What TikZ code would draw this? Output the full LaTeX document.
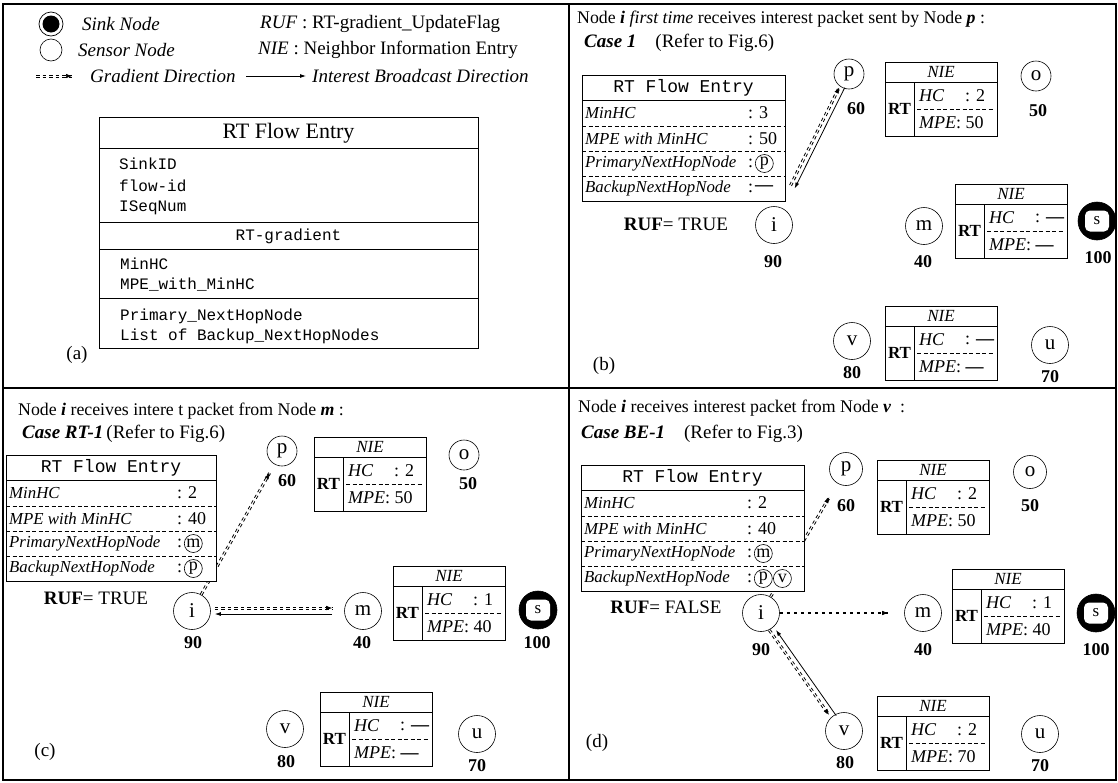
\documentclass[tikz,border=0pt]{standalone}
\usepackage{fontspec}
\setmainfont{Liberation Serif}
\setmonofont{Liberation Mono}
\usetikzlibrary{arrows.meta}
\newcommand{\fsz}[1]{\fontsize{#1}{#1}\selectfont}
\tikzset{
  snode/.style={circle, draw, line width=0.6pt, minimum size=37pt, inner sep=0pt, font=\fsz{21}},
  snodesm/.style={snode, minimum size=30pt},
  sinknode/.style={circle, draw, fill=black, line width=0.6pt, minimum size=38pt, inner sep=0pt},
  sinklbl/.style={fill=white, rounded corners=5pt, minimum width=24pt, minimum height=21pt, inner sep=0pt, font=\fsz{17}},
  num/.style={font=\bfseries\fsz{18}, inner sep=0pt},
  gd/.style={line width=0.8pt, dash pattern=on 3.5pt off 3pt},
  sdash/.style={line width=1.3pt, dash pattern=on 3.5pt off 3.5pt},
  gtip/.style={line width=0.6pt, dash pattern=on 0pt off 900pt, -{Latex[length=6pt,width=4.5pt]}},
  bcast/.style={line width=0.8pt, -{Latex[length=6pt,width=4pt]}},
  lbl/.style={anchor=west, font=\itshape\fsz{16.8}, inner sep=0pt},
  val/.style={anchor=west, font=\fsz{18}, inner sep=0pt},
  circ/.style={circle, draw, line width=0.6pt, inner sep=0pt, minimum size=18pt, font=\fsz{18}},
  ttl/.style={anchor=west, font=\fsz{17.8}, inner sep=0pt},
  cse/.style={anchor=west, font=\fsz{19}, inner sep=0pt},
  ruf/.style={font=\fsz{19}, inner sep=0pt},
  plab/.style={font=\fsz{19}, inner sep=0pt},
  mono/.style={anchor=west, font=\ttfamily\fsz{16}, inner sep=0pt},
  leg/.style={anchor=west, font=\fsz{19}, inner sep=0pt},
  frame/.style={line width=0.7pt},
}
% gradient connector: opts, from, to, offset x, offset y, stripe half-gap x, y
\newcommand{\gradline}[7]{%
 \draw[gd,#1,transform canvas={shift={({#4+#6},{#5+#7})}}] (#2) -- (#3);
 \draw[gd,#1,transform canvas={shift={({#4-#6},{#5-#7})}}] (#2) -- (#3);
 \draw[gtip,#1,transform canvas={shift={(#4,#5)}}] (#2) -- (#3);}
\newcommand{\sinkat}[3]{\node[sinknode] (#1) at (#2,#3) {}; \node[sinklbl] (#1-l) at (#1) {s};}
\newcommand{\niebox}[5]{%
\begin{scope}[shift={(#2,#3)}]
 \draw[line width=0.6pt, fill=white] (0,0) rectangle (112,74);
 \draw[line width=0.6pt] (0,20) -- (112,20) (29,20) -- (29,74);
 \draw[dash pattern=on 4pt off 2.5pt, line width=0.5pt] (32,47) -- (109,47);
 \node[font=\itshape\fsz{17}, inner sep=0pt] (#1-t) at (56,10) {NIE};
 \node[font=\bfseries\fsz{17}, inner sep=0pt] (#1-rt) at (14.5,47) {RT};
 \node[font=\fsz{18}, anchor=west, inner sep=0pt] (#1-hc) at (34,34) {\textit{HC}};
 \node[font=\fsz{18}, anchor=west, inner sep=0pt] (#1-hcv) at (80,34) {: #4};
 \node[font=\fsz{18}, anchor=west, inner sep=0pt] (#1-mp) at (34,61) {\textit{MPE}: #5};
\end{scope}}
\newcommand{\rtflow}[7]{%
\begin{scope}[shift={(#2,#3)}]
 \draw[line width=0.6pt, fill=white] (0,0) rectangle (#4,126);
 \draw[line width=0.6pt] (0,25) -- (#4,25);
 \draw[dash pattern=on 4pt off 2.5pt, line width=0.5pt] (0,51) -- (#4,51) (0,76) -- (#4,76) (0,101) -- (#4,101);
 \node[font=\ttfamily\fsz{18}, inner sep=0pt] (#1-t) at ({#4/2},12.5) {RT Flow Entry};
 \node[lbl] (#1-l1) at (3,38) {MinHC};
 \node[lbl] (#1-l2) at (3,63.5) {MPE with MinHC};
 \node[lbl] (#1-l3) at (3,88.5) {PrimaryNextHopNode};
 \node[lbl] (#1-l4) at (3,113.5) {BackupNextHopNode};
 \node[val] (#1-v1) at (#5,38) {: #6};
 \node[val] (#1-v2) at (#5,63.5) {: #7};
 \node[val] (#1-v3) at (#5,88.5) {:};
 \node[val] (#1-v4) at (#5,113.5) {:};
 \coordinate (#1-r3) at ({#5+7},88.5);
 \coordinate (#1-r4) at ({#5+7},113.5);
\end{scope}}
\begin{document}
\begin{tikzpicture}[x=1pt,y=-1pt]
\useasboundingbox (0,0) rectangle (1118,782);
\draw[line width=1.2pt] (3,4) rectangle (1116,780);
\draw[line width=2.5pt] (569,4) -- (569,780);
\draw[line width=2.5pt] (3,388) -- (1116,388);

% ---------- (a)
\node[circle, draw, line width=0.7pt, minimum size=24pt, inner sep=0pt] (legsink) at (51,24) {};
\node[circle, fill=black, minimum size=17pt, inner sep=0pt] (legsinkin) at (legsink) {};
\node[leg, font=\itshape\fsz{19}] (legsinkt) at (82,24) {Sink Node};
\node[circle, draw, line width=0.6pt, minimum size=22pt, inner sep=0pt] (legsens) at (51,50) {};
\node[leg, font=\itshape\fsz{19}] (legsenst) at (78,50) {Sensor Node};
\coordinate (lg1) at (36,76); \coordinate (lg2) at (72,76);
\gradline{}{lg1}{lg2}{0}{0}{0}{1}
\node[leg, font=\itshape\fsz{19}] (leggrad) at (90,76) {Gradient Direction};
\coordinate (lb1) at (246,76); \coordinate (lb2) at (306,76);
\draw[bcast] (lb1) -- (lb2);
\node[leg, font=\itshape\fsz{19}] (legbc) at (312,76) {Interest Broadcast Direction};
\node[leg] (legruf) at (260,24) {\textit{RUF} : RT-gradient\_UpdateFlag};
\node[leg] (legnie) at (258,50) {\textit{NIE} : Neighbor Information Entry};

\draw[frame] (99,117) rectangle (478,348);
\draw[frame] (99,148) -- (478,148) (99,222) -- (478,222) (99,249) -- (478,249) (99,298) -- (478,298);
\node[font=\fsz{22}, inner sep=0pt] (atitle) at (288.5,133) {RT Flow Entry};
\node[mono] (a1) at (119,164) {SinkID};
\node[mono] (a2) at (119,186) {flow-id};
\node[mono] (a3) at (119,208) {ISeqNum};
\node[mono, anchor=center] (a4) at (288.5,236) {RT-gradient};
\node[mono] (a5) at (120,264) {MinHC};
\node[mono] (a6) at (120,285) {MPE\_with\_MinHC};
\node[mono] (a7) at (120,316) {Primary\_NextHopNode};
\node[mono] (a8) at (120,336) {List of Backup\_NextHopNodes};
\node[plab] (alab) at (77,355) {(a)};

% ---------- (b)
\node[ttl] (btitle) at (577,19) {Node \textbf{\textit{i}} \textit{first time} receives interest packet sent by Node \textbf{\textit{p}} :};
\node[cse] (bcase) at (584,43) {\textbf{\textit{Case 1}}\quad(Refer to Fig.6)};
\node[snodesm] (bp) at (849,74) {p};
\node[num] (bp-n) at (856,109) {60};
\niebox{bnp}{885}{62}{2}{50}
\node[snodesm] (bo) at (1036,76) {o};
\node[num] (bo-n) at (1038,111) {50};
\node[snode] (bi) at (774,225) {i};
\node[num] (bi-n) at (773,262) {90};
\node[ruf] (bruf) at (676,224) {\textbf{RUF}= TRUE};
\node[snode] (bm) at (924,226) {m};
\node[num] (bm-n) at (923,262) {40};
\niebox{bnm}{955}{184}{\textbf{—}}{\textbf{—}}
\sinkat{bs}{1097}{221}
\node[num] (bs-n) at (1098,258) {100};
\node[snode] (bv) at (852,341) {v};
\node[num] (bv-n) at (852,373) {80};
\niebox{bnv}{885}{306}{\textbf{—}}{\textbf{—}}
\node[snode] (bu) at (1050,345) {u};
\node[num] (bu-n) at (1050,377) {70};
\node[plab] (blab) at (604,366) {(b)};
\draw[bcast, transform canvas={xshift=2.5pt}, shorten >=22pt] (bp) -- (bi);
\gradline{shorten <=24pt, shorten >=1pt}{bi}{bp}{-2.5}{-1.2}{0.95}{0.45}
\rtflow{bt}{582}{75}{203}{166}{3}{50}
\node[circ, anchor=west] (bt-pn) at (bt-r3) {p};
\node[val] (bt-bn) at (bt-r4) {\textbf{—}};

% ---------- (c)
\node[ttl] (ctitle) at (18,411) {Node \textbf{\textit{i}} receives intere t packet from Node \textbf{\textit{m}} :};
\node[cse] (ccase) at (22,434) {\textbf{\textit{Case RT-1}}\,(Refer to Fig.6)};
\node[snodesm] (cp) at (282,451) {p};
\node[num] (cp-n) at (287,481) {60};
\niebox{cnp}{314}{437}{2}{50}
\node[snodesm] (co) at (464,455) {o};
\node[num] (co-n) at (468,484) {50};
\node[snode] (ci) at (192,611) {i};
\node[num] (ci-n) at (193,643) {90};
\node[ruf] (cruf) at (96,598) {\textbf{RUF}= TRUE};
\node[snode] (cm) at (363,611) {m};
\node[num] (cm-n) at (362,643) {40};
\niebox{cnm}{393}{566}{1}{40}
\sinkat{cs}{538}{610}
\node[num] (cs-n) at (537,643) {100};
\node[snode] (cv) at (285,729) {v};
\node[num] (cv-n) at (286,762) {80};
\niebox{cnv}{320}{692}{\textbf{—}}{\textbf{—}}
\node[snode] (cu) at (477,734) {u};
\node[num] (cu-n) at (477,766) {70};
\node[plab] (clab) at (45,752) {(c)};
\gradline{shorten >=10pt}{ci}{cp}{0}{0}{0.9}{0.5}
\gradline{shorten <=4pt, shorten >=12pt}{ci}{cm}{0}{-3}{0}{1.1}
\draw[bcast, transform canvas={yshift=-3pt}, shorten <=12pt, shorten >=4pt] (cm) -- (ci);
\rtflow{ct}{6}{455}{210}{171}{2}{40}
\node[circ, anchor=west] (ct-pn) at (ct-r3) {m};
\node[circ, anchor=west] (ct-bn) at (ct-r4) {p};

% ---------- (d)
\node[ttl] (dtitle) at (578,408) {Node \textbf{\textit{i}} receives interest packet from Node \textbf{\textit{v}}\ \ :};
\node[cse] (dcase) at (581,434) {\textbf{\textit{Case BE-1}}\quad(Refer to Fig.3)};
\node[snodesm, minimum size=33pt] (dp) at (846,469) {p};
\node[num] (dp-n) at (846,506) {60};
\niebox{dnp}{877}{460}{2}{50}
\node[snodesm, minimum size=33pt] (do) at (1030,472) {o};
\node[num] (do-n) at (1030,506) {50};
\node[snode] (di) at (761,613) {i};
\node[num] (di-n) at (761,650) {90};
\node[ruf] (druf) at (666,607) {\textbf{RUF}= FALSE};
\node[snode] (dm) at (923,613) {m};
\node[num] (dm-n) at (923,650) {40};
\niebox{dnm}{952}{569}{1}{40}
\sinkat{ds}{1096}{613}
\node[num] (ds-n) at (1096,650) {100};
\node[snode] (dv) at (844,731) {v};
\node[num] (dv-n) at (845,763) {80};
\niebox{dnv}{877}{696}{2}{70}
\node[snode] (du) at (1040,734) {u};
\node[num] (du-n) at (1040,766) {70};
\node[plab] (dlab) at (597,743) {(d)};
\gradline{shorten >=16pt}{di}{dp}{0}{0}{0.9}{0.5}
\draw[sdash, shorten >=16pt] (di) -- (dm);
\draw[gtip, shorten >=16pt] (di) -- (dm);
\draw[bcast, transform canvas={xshift=3pt}, shorten >=2pt] (dv) -- (di);
\gradline{shorten >=3pt}{di}{dv}{-2.5}{1.7}{0.85}{-0.6}
\rtflow{dt}{581}{465}{223}{166}{2}{40}
\node[circ, anchor=west] (dt-pn) at (dt-r3) {m};
\node[circ, anchor=west] (dt-bn1) at (dt-r4) {p};
\node[circ, anchor=west] (dt-bn2) at ([xshift=0.5pt]dt-bn1.east) {v};
\end{tikzpicture}
\end{document}
